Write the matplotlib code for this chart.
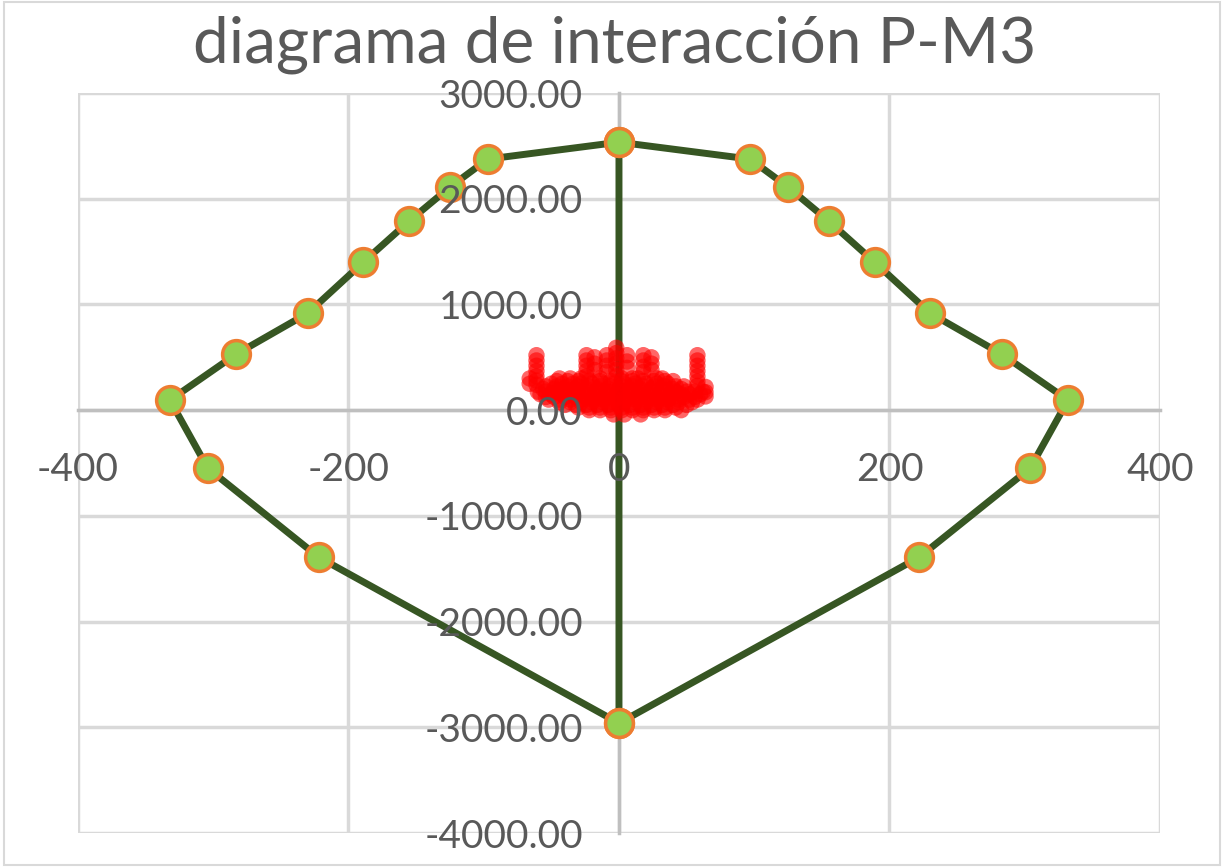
import matplotlib
matplotlib.use("Agg")
import matplotlib.pyplot as plt
from matplotlib.patches import Rectangle

# Diagrama de interaccion P-M3 (capacidad) y cargas de demanda

# curva de capacidad: lado derecho (arriba -> abajo) y luego lado izquierdo
m3_capacidad = [0, 97, 125, 155, 189, 230, 283, 332, 304, 222, 0,
                0, -97, -125, -155, -189, -230, -283, -332, -304, -222, 0]
p_capacidad = [2535, 2375, 2110, 1790, 1400, 918, 530, 95, -549, -1391, -2961,
               2535, 2375, 2110, 1790, 1400, 918, 530, 95, -549, -1391, -2961]

# cargas de demanda (nube roja)
m3_demanda = [
    -61, -61, -61, -61, -61, -61, -61, -66, -66,
    -24, -24, -24, -24, -24, -18, -18, -18,
    -9, -9, -9, -9, -2, -2, -2, -2, -2, -2,
    6, 6, 6, 18, 18, 18, 18, 24, 24, 24,
    58, 58, 58, 58, 58, 58, 58, 64, 64, 64,
    -44, -36, -28, -14, 2, 10, 14, 28, 32,
    -46, -38, -30, -22, -14, -6, 2, 10, 18, 26, 34, 40,
    -50, -42, -34, -28, -20, -12, -4, 4, 12, 20, 28, 36,
    -54, -46, -38, -30, -22, -14, -6, 2, 10, 18, 26, 34, 42, 48,
    -56, -48, -40, -32, -24, -16, -8, 0, 8, 16, 24, 32, 40, 46,
    -60, -54, -46, -38, -30, -22, -14, -6, 2, 10, 18, 26, 34, 42, 50, 56, 62,
    -58, -50, -42, -34, -26, -18, -10, -2, 6, 14, 22, 30, 38, 46, 52, 60,
    -54, -48, -40, -32, -24, -16, -8, 0, 8, 16, 24, 32, 40, 48, 56,
    -52, -44, -36, -28, -20, -12, -4, 4, 12, 20, 28, 36, 44, 52, 58,
    -44, -36, -28, -20, -12, -4, 4, 12, 20, 28, 36, 44, 54,
    -40, -32, -24, -16, -8, 0, 8, 16, 24, 32, 40, 50,
    -30, -22, -14, -6, 2, 10, 18, 26, 34, 42,
    -22, -14, -6, 2, 10, 18, 26, 34, 46,
    -4, 4, 16,
]
p_demanda = [
    520, 470, 420, 370, 320, 280, 240, 300, 250,
    520, 470, 420, 370, 320, 500, 440, 380,
    520, 470, 420, 360, 590, 540, 490, 440, 380, 320,
    520, 460, 400, 520, 470, 410, 360, 500, 440, 380,
    520, 470, 420, 370, 320, 270, 230, 220, 170, 130,
    300, 300, 300, 300, 300, 300, 300, 300, 300,
    275, 275, 275, 275, 275, 275, 275, 275, 275, 275, 275, 275,
    250, 250, 250, 250, 250, 250, 250, 250, 250, 250, 250, 250,
    225, 225, 225, 225, 225, 225, 225, 225, 225, 225, 225, 225, 225, 225,
    200, 200, 200, 200, 200, 200, 200, 200, 200, 200, 200, 200, 200, 200,
    175, 175, 175, 175, 175, 175, 175, 175, 175, 175, 175, 175, 175, 175, 175, 175, 175,
    150, 150, 150, 150, 150, 150, 150, 150, 150, 150, 150, 150, 150, 150, 150, 150,
    125, 125, 125, 125, 125, 125, 125, 125, 125, 125, 125, 125, 125, 125, 125,
    100, 100, 100, 100, 100, 100, 100, 100, 100, 100, 100, 100, 100, 100, 100,
    75, 75, 75, 75, 75, 75, 75, 75, 75, 75, 75, 75, 75,
    50, 50, 50, 50, 50, 50, 50, 50, 50, 50, 50, 50,
    25, 25, 25, 25, 25, 25, 25, 25, 25, 25,
    0, 0, 0, 0, 0, 0, 0, 0, 0,
    -40, -40, -40,
]

x_ticks = [-400, -200, 0, 200, 400]
y_ticks = [-4000, -3000, -2000, -1000, 0, 1000, 2000, 3000]
titulo = "diagrama de interacción P-M3"

plt.rcParams["font.family"] = ["Lato", "DejaVu Sans"]
plt.rcParams["axes.unicode_minus"] = False
gris_texto = "#595959"

fig = plt.figure(figsize=(12.24, 8.67), dpi=100)
ax = fig.add_axes([0.0637, 0.0392, 0.884, 0.8535])

# cuadricula manual, debajo de todo
for xv in x_ticks:
    ax.axvline(xv, color="#D9D9D9", lw=2.5, zorder=0.5)
for yv in y_ticks:
    ax.axhline(yv, color="#D9D9D9", lw=2.5, zorder=0.5)

ax.plot(m3_capacidad, p_capacidad, color="#375623", lw=5, marker="o",
        markersize=20, markerfacecolor="#92D050", markeredgecolor="#ED7D31",
        markeredgewidth=2.5, zorder=3)
ax.scatter(m3_demanda, p_demanda, s=140, color="#FF0000", alpha=0.6,
           edgecolors="none", zorder=4)

ax.set_xlim(-400, 400)
ax.set_ylim(-4000, 3000)
ax.set_xticks(x_ticks)
ax.set_yticks(y_ticks)
ax.set_yticklabels([f"{v:.2f}" for v in y_ticks])

for lado in ["top", "right"]:
    ax.spines[lado].set_visible(False)
ax.spines["left"].set_position("zero")
ax.spines["bottom"].set_position("zero")
for lado in ["left", "bottom"]:
    ax.spines[lado].set_color("#BFBFBF")
    ax.spines[lado].set_linewidth(2.5)
    ax.spines[lado].set_zorder(0.6)

ax.xaxis.set_zorder(5)
ax.yaxis.set_zorder(5)
ax.tick_params(axis="x", length=0, pad=30, labelsize=28, labelcolor=gris_texto)
ax.tick_params(axis="y", length=0, pad=26, labelsize=28, labelcolor=gris_texto)

fig.text(0.502, 0.948, titulo, ha="center", va="center", fontsize=46,
         color=gris_texto)

fig.patches.append(Rectangle((0.003, 0.002), 0.994, 0.996, transform=fig.transFigure,
                             fill=False, edgecolor="#D9D9D9", lw=1.5))

fig.savefig("out.png", dpi=100, facecolor="white")
